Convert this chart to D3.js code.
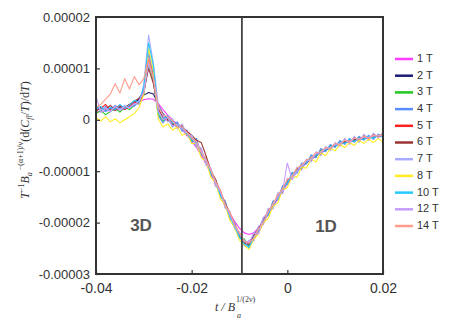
<!DOCTYPE html>
<html>
<head>
    <meta charset="UTF-8" />
    <title>Field dependent specific heat derivative</title>
    <script src="https://d3js.org/d3.v7.min.js"></script>
    <style>
        body { margin: 0; background: white; }
    </style>
</head>
<body>
    <svg id="canvas" width="464" height="328"></svg>
    <script>
        // x values (t / B^(1/2v)) shared by every field
        const xValues = [-0.040, -0.039, -0.038, -0.037, -0.036, -0.035, -0.034, -0.033, -0.032, -0.031,
                         -0.030, -0.029, -0.028, -0.027, -0.026, -0.025, -0.024, -0.023, -0.022, -0.021,
                         -0.020, -0.019, -0.018, -0.017, -0.016, -0.015, -0.014, -0.013, -0.012, -0.011,
                         -0.010, -0.009, -0.008, -0.007, -0.006, -0.005, -0.004, -0.003, -0.002, -0.001,
                          0.000,  0.001,  0.002,  0.003,  0.004,  0.005,  0.006,  0.007,  0.008,  0.009,
                          0.010,  0.011,  0.012,  0.013,  0.014,  0.015,  0.016,  0.017,  0.018,  0.019, 0.020];

        // y values, in units of 1e-6
        const field1T  = [1.5, 1.6, 1.7, 1.8, 1.9, 2.1, 2.3, 2.6, 3.0, 3.5,
                          3.9, 4.1, 4.0, 3.2, 2.0, 0.9, 0.0, -0.9, -1.9, -3.0,
                          -4.1, -5.4, -6.9, -8.6, -10.5, -12.5, -14.5, -16.4, -18.2, -19.8,
                          -21.1, -22.0, -22.3, -22.0, -21.0, -19.8, -18.4, -16.9, -15.4, -13.9,
                          -12.5, -11.3, -10.2, -9.2, -8.4, -7.7, -7.0, -6.4, -5.9, -5.4,
                          -5.0, -4.6, -4.3, -4.1, -3.9, -3.7, -3.5, -3.4, -3.2, -3.1, -3.0];
        const field2T  = [2.0, 2.3, 1.9, 2.2, 2.0, 2.5, 2.4, 2.9, 3.3, 4.0,
                          4.8, 5.3, 5.0, 3.0, 1.2, 0.2, -0.4, -0.9, -1.6, -2.6,
                          -3.6, -4.7, -6.1, -7.9, -9.9, -12.1, -14.2, -16.4, -18.6, -20.6,
                          -22.5, -23.7, -24.2, -23.1, -21.5, -19.8, -18.1, -16.6, -15.1, -13.6,
                          -12.1, -11.0, -10.0, -9.1, -8.3, -7.6, -7.0, -6.4, -5.9, -5.4,
                          -5.0, -4.7, -4.4, -4.2, -4.0, -3.8, -3.6, -3.5, -3.3, -3.2, -3.1];
        const field3T  = [1.2, 1.8, 1.0, 1.6, 2.2, 1.5, 2.4, 2.0, 2.8, 3.4,
                          5.0, 11.0, 7.5, 1.0, -0.2, 0.4, -1.0, -0.6, -2.0, -2.4,
                          -4.0, -4.4, -6.6, -7.6, -10.4, -11.8, -14.8, -16.0, -19.0, -20.2,
                          -22.8, -23.2, -24.6, -22.4, -21.6, -19.2, -18.4, -16.0, -15.4, -13.0,
                          -12.4, -10.4, -10.2, -8.6, -8.4, -7.0, -7.2, -5.8, -6.0, -5.0,
                          -5.2, -4.2, -4.6, -3.8, -4.2, -3.4, -3.8, -3.2, -3.6, -2.9, -3.3];
        const field4T  = [2.4, 1.8, 2.6, 2.0, 2.8, 2.2, 2.0, 3.0, 2.6, 3.8,
                          6.0, 13.0, 9.0, 0.8, -0.6, 0.6, -1.4, -0.4, -2.2, -2.0,
                          -4.4, -3.6, -6.8, -7.4, -10.8, -11.6, -15.0, -15.8, -19.2, -20.0,
                          -23.0, -23.4, -25.0, -22.0, -21.8, -19.0, -18.6, -15.8, -15.6, -12.8,
                          -12.6, -10.2, -10.4, -8.4, -8.6, -6.8, -7.4, -5.6, -6.2, -4.8,
                          -5.4, -4.0, -4.8, -3.6, -4.4, -3.2, -4.0, -3.0, -3.8, -2.8, -3.4];
        const field5T  = [2.6, 2.2, 3.0, 1.8, 2.4, 2.8, 2.0, 2.6, 3.4, 3.2,
                          5.2, 12.0, 8.4, 2.2, 0.4, -0.2, -0.4, -1.6, -1.0, -3.0,
                          -3.2, -5.2, -5.8, -8.6, -9.6, -12.8, -13.8, -17.0, -18.0, -21.0,
                          -22.0, -24.4, -23.6, -23.4, -20.8, -20.2, -17.4, -17.2, -14.4, -14.2,
                          -11.6, -11.4, -9.4, -9.6, -7.8, -8.0, -6.4, -6.8, -5.4, -5.8,
                          -4.6, -5.0, -3.8, -4.6, -3.4, -4.2, -3.0, -3.8, -2.8, -3.4, -2.6];
        const field6T  = [1.6, 2.4, 2.0, 2.8, 1.8, 2.6, 2.4, 3.0, 3.6, 4.2,
                          5.6, 10.0, 7.0, 2.0, 0.6, 0.0, -0.8, -1.2, -1.4, -2.2,
                          -3.0, -4.0, -4.4, -7.0, -9.8, -11.6, -14.0, -16.2, -18.2, -20.4,
                          -22.2, -24.0, -24.2, -22.6, -21.0, -19.6, -17.8, -16.8, -14.8, -13.8,
                          -11.8, -11.2, -9.6, -9.4, -7.9, -7.7, -6.6, -6.6, -5.6, -5.6,
                          -4.8, -4.8, -4.2, -4.4, -3.8, -4.0, -3.4, -3.6, -3.0, -3.3, -2.9];
        const field7T  = [2.8, 2.0, 2.4, 1.6, 2.6, 2.0, 2.8, 2.2, 3.2, 3.0,
                          7.0, 16.5, 11.0, 3.0, 0.8, -0.4, 0.2, -1.8, -0.8, -2.8,
                          -3.0, -5.4, -5.4, -8.8, -9.4, -13.0, -13.6, -17.2, -17.8, -21.2,
                          -21.8, -24.6, -23.4, -23.6, -20.6, -20.4, -17.2, -17.4, -14.2, -14.4,
                          -11.4, -11.6, -9.2, -9.8, -7.6, -8.2, -6.2, -7.0, -5.2, -6.0,
                          -4.4, -5.2, -3.6, -4.8, -3.2, -4.4, -2.8, -4.0, -2.6, -3.6, -2.4];
        const field8T  = [0.4, -0.2, 0.6, -0.4, 0.2, -0.6, 0.0, 0.6, 1.2, 2.4,
                          5.0, 14.0, 9.5, 0.2, -1.4, -0.8, -2.0, -1.4, -3.0, -2.6,
                          -4.6, -4.6, -7.4, -8.0, -11.2, -12.2, -15.4, -16.6, -19.6, -21.0,
                          -23.4, -24.4, -25.2, -23.2, -22.2, -20.0, -19.2, -16.8, -16.2, -13.6,
                          -13.2, -11.0, -11.2, -9.2, -9.4, -7.6, -8.2, -6.4, -7.0, -5.6,
                          -6.0, -4.8, -5.4, -4.4, -5.0, -4.0, -4.6, -3.8, -4.4, -3.6, -4.4];
        const field10T = [2.2, 2.6, 1.6, 2.4, 2.0, 3.0, 2.2, 2.8, 3.8, 3.4,
                          6.4, 15.0, 10.5, 1.4, 0.2, 0.8, -0.6, -1.0, -1.6, -2.8,
                          -3.8, -4.6, -6.4, -7.8, -10.2, -12.0, -14.6, -16.4, -18.8, -20.8,
                          -22.8, -24.2, -24.8, -22.8, -21.4, -19.8, -18.2, -16.4, -15.2, -13.4,
                          -12.2, -10.8, -10.0, -9.0, -8.2, -7.4, -6.8, -6.2, -5.8, -5.2,
                          -5.0, -4.4, -4.6, -3.8, -4.2, -3.6, -3.8, -3.2, -3.6, -3.0, -3.2];
        const field12T = [4.6, 1.4, 2.2, 1.6, 2.6, 1.8, 2.6, 2.4, 3.0, 3.6,
                          5.4, 11.0, 8.0, 1.8, 0.0, 0.4, -1.2, -0.8, -1.8, -2.6,
                          -3.4, -4.8, -6.0, -8.2, -9.6, -12.4, -14.0, -16.6, -18.4, -20.6,
                          -22.2, -23.6, -23.8, -22.0, -22.2, -19.0, -18.0, -16.4, -15.0, -13.8,
                          -8.4, -11.6, -10.0, -9.0, -8.0, -7.8, -6.6, -6.4, -5.6, -5.4,
                          -4.8, -4.6, -4.0, -4.4, -3.6, -3.8, -3.4, -3.4, -3.2, -3.0, -3.1];
        const field14T = [2.4, 3.0, 4.0, 5.0, 7.0, 5.2, 8.0, 6.0, 8.4, 6.8,
                          8.0, 12.0, 8.0, 2.6, 1.0, 0.6, -0.2, -1.4, -1.4, -2.4,
                          -3.6, -4.2, -6.4, -7.6, -9.8, -12.0, -13.6, -16.6, -18.0, -20.4,
                          -22.0, -23.6, -24.0, -23.0, -21.2, -20.0, -17.8, -16.4, -14.6, -13.4,
                          -11.6, -11.0, -9.4, -8.8, -7.8, -7.4, -6.4, -6.2, -5.4, -5.6,
                          -4.6, -4.8, -4.0, -4.2, -3.6, -3.8, -3.2, -3.6, -3.0, -3.2, -2.8];

        const seriesNames = ["1 T", "2 T", "3 T", "4 T", "5 T", "6 T", "7 T", "8 T", "10 T", "12 T", "14 T"];
        const seriesValues = [field1T, field2T, field3T, field4T, field5T, field6T, field7T, field8T, field10T, field12T, field14T];
        const seriesColors = ["#ff3cff", "#1c1c78", "#22c822", "#5a8cff", "#ff2222", "#9a3434",
                              "#a9acff", "#ffec22", "#28c8ff", "#c79cff", "#ff9c8c"];

        const xTickValues = [-0.04, -0.02, 0, 0.02];
        const xTickLabels = ["-0.04", "-0.02", "0", "0.02"];
        const yTickValues = [20, 10, 0, -10, -20, -30];
        const yTickLabels = ["0.00002", "0.00001", "0", "-0.00001", "-0.00002", "-0.00003"];
        const crossover = -0.0095;   // 3D / 1D boundary

        let svg = d3.select("svg#canvas");
        const plot = {left: 96, right: 383, top: 17, bottom: 274};

        const xScale = d3.scaleLinear().domain([-0.04, 0.02]).range([plot.left, plot.right]);
        const yScale = d3.scaleLinear().domain([-30, 20]).range([plot.bottom, plot.top]);

        // curves
        let curves = svg.append("g").attr("id", "curves");
        const line = d3.line()
                       .x((d, i) => xScale(xValues[i]))
                       .y(d => yScale(d));
        seriesValues.forEach((vals, i) => {
            curves.append("path")
                  .attr("d", line(vals))
                  .attr("fill", "none")
                  .attr("stroke", seriesColors[i])
                  .attr("stroke-width", 1.1)
                  .attr("stroke-linejoin", "round");
        });

        // axes
        let yAxis = svg.append("g")
                       .attr("transform", `translate(${plot.left},0)`)
                       .call(d3.axisLeft(yScale).tickValues(yTickValues)
                               .tickFormat((d, i) => yTickLabels[i])
                               .tickSize(-4).tickPadding(6));
        let xAxis = svg.append("g")
                       .attr("transform", `translate(0,${plot.bottom})`)
                       .call(d3.axisBottom(xScale).tickValues(xTickValues)
                               .tickFormat((d, i) => xTickLabels[i])
                               .tickSize(-4).tickPadding(9));
        [xAxis, yAxis].forEach(ax => {
            ax.select(".domain").remove();
            ax.selectAll(".tick line").attr("stroke", "#333").attr("stroke-width", 1.2);
            ax.selectAll(".tick text")
              .attr("font-family", "Liberation Sans, Arial, sans-serif")
              .attr("font-size", "13px")
              .attr("fill", "#333");
        });
        xAxis.selectAll(".tick text").attr("font-size", "14px");

        // frame
        svg.append("rect")
           .attr("x", plot.left)
           .attr("y", plot.top)
           .attr("width", plot.right - plot.left)
           .attr("height", plot.bottom - plot.top)
           .attr("fill", "none")
           .attr("stroke", "#333")
           .attr("stroke-width", 2);

        // crossover line
        svg.append("line")
           .attr("x1", xScale(crossover))
           .attr("x2", xScale(crossover))
           .attr("y1", plot.top)
           .attr("y2", plot.bottom)
           .attr("stroke", "#444")
           .attr("stroke-width", 1.8);

        // region labels
        svg.append("text")
           .attr("x", 141).attr("y", 231)
           .attr("text-anchor", "middle")
           .attr("font-family", "Liberation Sans, Arial, sans-serif")
           .attr("font-weight", "bold")
           .attr("font-size", "17px")
           .attr("fill", "#555")
           .text("3D");
        svg.append("text")
           .attr("x", 326).attr("y", 232)
           .attr("text-anchor", "middle")
           .attr("font-family", "Liberation Sans, Arial, sans-serif")
           .attr("font-weight", "bold")
           .attr("font-size", "17px")
           .attr("fill", "#555")
           .text("1D");

        // legend
        let legend = svg.append("g").attr("id", "legend");
        seriesNames.forEach((name, i) => {
            const y = 59 + i * 16.7;
            legend.append("line")
                  .attr("x1", 395).attr("x2", 413)
                  .attr("y1", y).attr("y2", y)
                  .attr("stroke", seriesColors[i])
                  .attr("stroke-width", 2.5);
            legend.append("text")
                  .attr("x", 417).attr("y", y)
                  .attr("dominant-baseline", "middle")
                  .attr("font-family", "Liberation Sans, Arial, sans-serif")
                  .attr("font-size", "11px")
                  .attr("fill", "#333")
                  .text(name);
        });

        // y axis title
        let yTitle = svg.append("text")
                        .attr("transform", "translate(29,140) rotate(-90)")
                        .attr("text-anchor", "middle")
                        .attr("font-family", "Liberation Serif, Times New Roman, serif")
                        .attr("font-size", "12px")
                        .attr("fill", "#333");
        yTitle.append("tspan").attr("font-style", "italic").text("T");
        yTitle.append("tspan").attr("font-size", "8px").attr("dy", -5).text("−1");
        yTitle.append("tspan").attr("font-style", "italic").attr("dy", 5).text("B");
        yTitle.append("tspan").attr("font-style", "italic").attr("font-size", "8px").attr("dy", 3).text("a");
        yTitle.append("tspan").attr("font-size", "8px").attr("dy", -9).text(" −(α+1)/ν");
        yTitle.append("tspan").attr("dy", 6).text("(d(");
        yTitle.append("tspan").attr("font-style", "italic").text("C");
        yTitle.append("tspan").attr("font-style", "italic").attr("font-size", "8px").attr("dy", 3).text("fl");
        yTitle.append("tspan").attr("dy", -3).text("/");
        yTitle.append("tspan").attr("font-style", "italic").text("T");
        yTitle.append("tspan").text(")/d");
        yTitle.append("tspan").attr("font-style", "italic").text("T");
        yTitle.append("tspan").text(")");

        // x axis title
        let xTitle = svg.append("g")
                        .attr("font-family", "Liberation Serif, Times New Roman, serif")
                        .attr("fill", "#333");
        xTitle.append("text")
              .attr("x", 215).attr("y", 311)
              .attr("font-size", "12px")
              .attr("font-style", "italic")
              .text("t / B");
        xTitle.append("text")
              .attr("x", 236).attr("y", 302)
              .attr("font-size", "8px")
              .text("1/(2ν)");
        xTitle.append("text")
              .attr("x", 237).attr("y", 318)
              .attr("font-size", "8px")
              .attr("font-style", "italic")
              .text("a");
    </script>
</body>
</html>
